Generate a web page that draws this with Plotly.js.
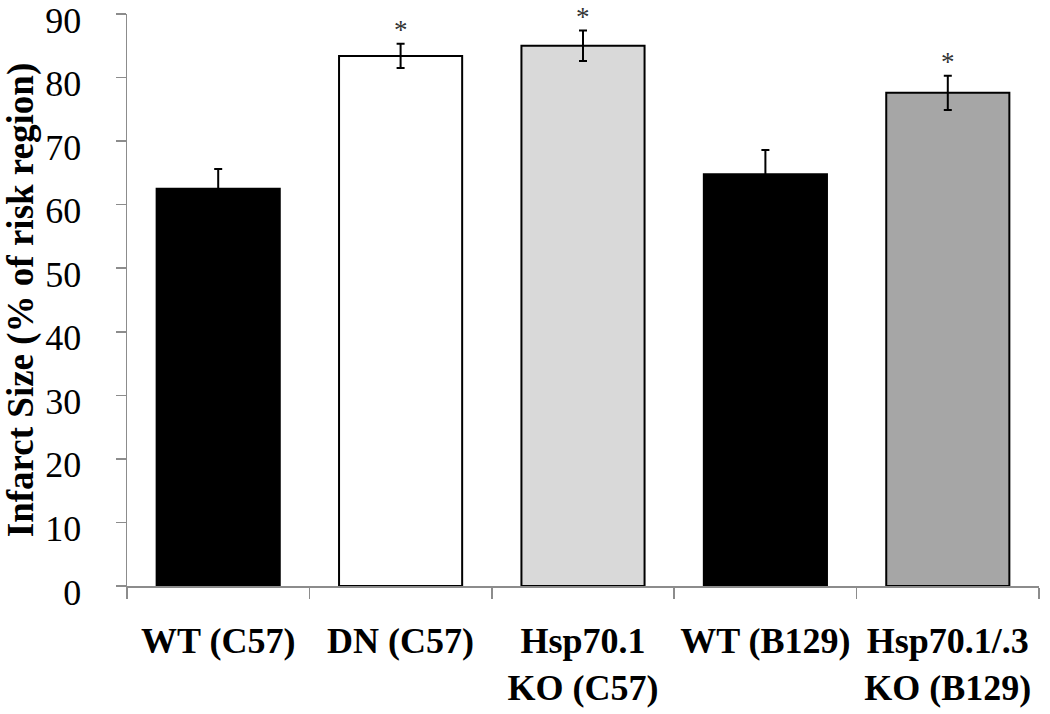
<!DOCTYPE html>
<html>
<head>
<meta charset="utf-8">
<script src="https://cdn.plot.ly/plotly-3.0.1.min.js"></script>
<style>
  html, body { margin: 0; padding: 0; background: #fff; }
  #chart { width: 1050px; height: 714px; }
</style>
</head>
<body>
<div id="chart"></div>
<script>
// groups along the x axis
const groups = ['WT (C57)', 'DN (C57)', 'Hsp70.1<br>KO (C57)', 'WT (B129)', 'Hsp70.1/.3<br>KO (B129)'];
// infarct size, % of risk region
const infarct = [62.5, 83.4, 85.0, 64.8, 77.6];
const sem = [3.1, 1.9, 2.4, 3.8, 2.7];
const fills = ['#000000', '#ffffff', '#d9d9d9', '#000000', '#a6a6a6'];
// which groups get the significance star
const starred = [false, true, true, false, true];

const serif = 'Liberation Serif, Times New Roman, serif';

const bars = {
  type: 'bar',
  x: groups,
  y: infarct,
  marker: { color: fills, line: { color: '#000', width: 2 } },
  error_y: { type: 'data', array: sem, visible: true, color: '#000', thickness: 2, width: 4 },
  hoverinfo: 'skip'
};

// stars sit just above the top of each error bar
const stars = [];
groups.forEach((g, i) => {
  if (!starred[i]) return;
  stars.push({
    x: g, y: infarct[i] + sem[i],
    xref: 'x', yref: 'y',
    text: '*', showarrow: false,
    yanchor: 'bottom', yshift: -3,
    font: { family: serif, size: 27, color: '#333' }
  });
});

const layout = {
  width: 1050,
  height: 714,
  margin: { l: 127, r: 11, t: 14, b: 128 },
  paper_bgcolor: '#fff',
  plot_bgcolor: '#fff',
  showlegend: false,
  bargap: 0.325,
  font: { family: serif, color: '#000' },
  xaxis: {
    type: 'category',
    showgrid: false,
    zeroline: false,
    showline: true,
    linecolor: '#8c8c8c',
    linewidth: 1.5,
    ticks: 'outside',
    tickson: 'boundaries',
    ticklen: 11,
    tickcolor: '#8c8c8c',
    tickwidth: 1.5,
    tickfont: { family: serif, size: 36, weight: 'bold', color: '#000' },
    ticklabelstandoff: 22
  },
  yaxis: {
    range: [0, 90],
    tickvals: [0, 10, 20, 30, 40, 50, 60, 70, 80, 90],
    showgrid: false,
    zeroline: false,
    showline: true,
    linecolor: '#8c8c8c',
    linewidth: 1.5,
    ticks: 'outside',
    ticklen: 10,
    tickcolor: '#8c8c8c',
    tickwidth: 1.5,
    tickfont: { family: serif, size: 36, color: '#000' },
    ticklabelstandoff: 27,
    ticklabelshift: 6,
    ticklabeloverflow: 'allow',
    title: {
      text: 'Infarct Size (% of risk region)',
      font: { family: serif, size: 37, weight: 'bold', color: '#000' },
      standoff: 0
    }
  },
  annotations: stars
};

Plotly.newPlot('chart', [bars], layout, { displayModeBar: false, staticPlot: true });
</script>
</body>
</html>
